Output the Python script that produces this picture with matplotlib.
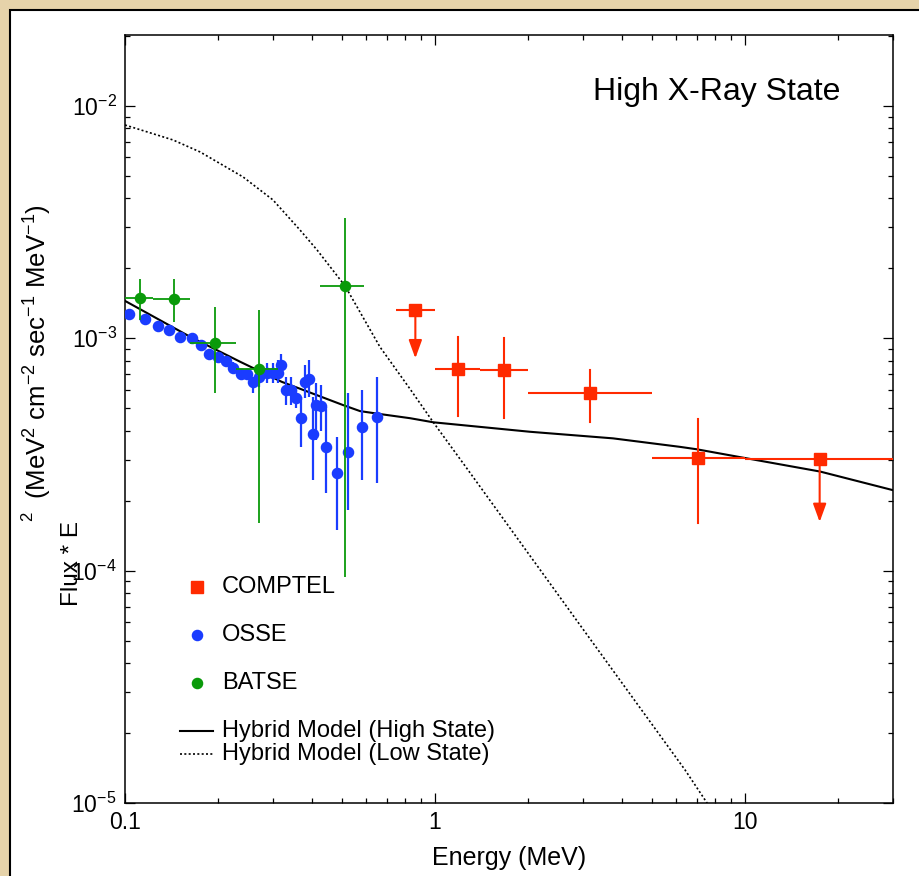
import matplotlib
matplotlib.use("Agg")
import matplotlib.pyplot as plt
from matplotlib.patches import Rectangle
from matplotlib.ticker import NullFormatter
import numpy as np

plt.rcParams["font.family"] = ["Liberation Sans", "DejaVu Sans"]
plt.rcParams["mathtext.fontset"] = "custom"
plt.rcParams["mathtext.rm"] = "Liberation Sans"
plt.rcParams["mathtext.default"] = "regular"
plt.rcParams["axes.unicode_minus"] = False

# COMPTEL (energy bins in MeV, flux*E^2)
comptel_e = [0.864, 1.19, 1.67, 3.17, 7.07, 17.4]
comptel_e_lo = [0.75, 1.0, 1.4, 2.0, 5.0, 10.0]
comptel_e_hi = [1.0, 1.4, 2.0, 5.0, 10.0, 30.0]
comptel_f = [1.32e-3, 7.35e-4, 7.28e-4, 5.80e-4, 3.04e-4, 3.01e-4]
comptel_f_lo = [8.2e-4, 4.63e-4, 4.55e-4, 4.38e-4, 1.61e-4, 1.62e-4]
comptel_f_hi = [1.32e-3, 1.016e-3, 1.0e-3, 7.30e-4, 4.48e-4, 3.01e-4]
comptel_ul = [True, False, False, False, False, True]

# OSSE
osse_e = [0.1032, 0.116, 0.1281, 0.139, 0.1504, 0.164, 0.1754, 0.187, 0.200,
          0.2118, 0.2225, 0.236, 0.248, 0.258, 0.271, 0.2864, 0.2995, 0.311,
          0.318, 0.330, 0.343, 0.3555, 0.3687, 0.381, 0.392, 0.4027, 0.413,
          0.4285, 0.4449, 0.4817, 0.5253, 0.5827, 0.6485]
osse_f = [1.272e-3, 1.208e-3, 1.127e-3, 1.087e-3, 1.010e-3, 1.006e-3, 9.36e-4,
          8.53e-4, 8.28e-4, 7.98e-4, 7.47e-4, 6.99e-4, 6.99e-4, 6.47e-4, 6.84e-4,
          7.11e-4, 7.11e-4, 7.11e-4, 7.67e-4, 5.99e-4, 5.99e-4, 5.52e-4, 4.53e-4,
          6.47e-4, 6.66e-4, 3.88e-4, 5.16e-4, 5.11e-4, 3.42e-4, 2.64e-4, 3.25e-4,
          4.17e-4, 4.60e-4]
osse_f_lo = [1.24e-3, 1.18e-3, 1.10e-3, 1.06e-3, 0.98e-3, 0.975e-3, 9.05e-4,
             8.2e-4, 7.9e-4, 7.6e-4, 7.1e-4, 6.6e-4, 6.6e-4, 5.80e-4, 6.19e-4,
             6.40e-4, 6.40e-4, 6.40e-4, 6.83e-4, 5.16e-4, 5.16e-4, 5.00e-4, 3.42e-4,
             5.52e-4, 5.61e-4, 2.45e-4, 3.65e-4, 4.00e-4, 2.15e-4, 1.50e-4, 1.82e-4,
             2.45e-4, 2.38e-4]
osse_f_hi = [1.30e-3, 1.24e-3, 1.16e-3, 1.12e-3, 1.04e-3, 1.04e-3, 9.7e-4,
             8.9e-4, 8.7e-4, 8.4e-4, 7.9e-4, 7.4e-4, 7.4e-4, 6.83e-4, 7.67e-4,
             7.80e-4, 7.80e-4, 8.06e-4, 8.56e-4, 6.83e-4, 6.83e-4, 6.10e-4, 5.61e-4,
             7.67e-4, 8.06e-4, 5.61e-4, 6.40e-4, 6.30e-4, 5.08e-4, 3.77e-4, 5.80e-4,
             5.99e-4, 6.83e-4]

# BATSE
batse_e = [0.1118, 0.1439, 0.195, 0.2705, 0.5126]
batse_e_lo = [0.1, 0.1231, 0.1622, 0.228, 0.4256]
batse_e_hi = [0.1231, 0.1622, 0.228, 0.3114, 0.590]
batse_f = [1.486e-3, 1.476e-3, 9.57e-4, 7.38e-4, 1.684e-3]
batse_f_lo = [1.20e-3, 1.175e-3, 5.82e-4, 1.60e-4, 9.37e-5]
batse_f_hi = [1.80e-3, 1.80e-3, 1.364e-3, 1.325e-3, 3.30e-3]

# Hybrid model curves
high_e = [0.1, 0.162, 0.235, 0.320, 0.505, 0.573, 0.665, 0.831, 0.987, 2.025,
          3.75, 6.17, 6.98, 10.9, 17.46, 30.0]
high_f = [1.449e-3, 1.016e-3, 7.93e-4, 6.50e-4, 5.16e-4, 4.86e-4, 4.72e-4,
          4.53e-4, 4.35e-4, 3.96e-4, 3.71e-4, 3.41e-4, 3.33e-4, 2.99e-4,
          2.67e-4, 2.22e-4]
low_e = [0.1, 0.1428, 0.1746, 0.2402, 0.3001, 0.3668, 0.4163, 0.5126, 0.6646,
         0.8307, 0.9853, 1.278, 2.936, 6.405, 7.54, 8.5]
low_f = [8.28e-3, 7.14e-3, 6.34e-3, 4.95e-3, 3.94e-3, 2.925e-3, 2.40e-3,
         1.68e-3, 9.17e-4, 6.05e-4, 4.365e-4, 2.71e-4, 5.83e-5, 1.387e-5,
         1.0e-5, 7.0e-6]

red = "#ff2a00"
blue = "#1a3cff"
green = "#0a9a0a"
parchment = "#e6d3aa"

fig = plt.figure(figsize=(9.19, 8.76), dpi=100)
fig.patch.set_facecolor(parchment)
fig.add_artist(Rectangle((10 / 919, -0.01), 1.0, 866 / 876 + 0.01,
                         transform=fig.transFigure, facecolor="white",
                         edgecolor="black", lw=1.5, zorder=0))

ax = fig.add_axes([125 / 919, 73 / 876, 768 / 919, 768 / 876])
ax.set_xscale("log")
ax.set_yscale("log")
ax.set_xlim(0.1, 30)
ax.set_ylim(1e-5, 2.02e-2)

ax.plot(high_e, high_f, color="black", lw=1.5, zorder=2)
ax.plot(low_e, low_f, color="black", lw=1.2, ls=(0, (1.2, 1.4)), zorder=2)

of = np.array(osse_f)
ax.errorbar(osse_e, of, yerr=[of - np.array(osse_f_lo), np.array(osse_f_hi) - of],
            fmt="o", ms=7.3, color=blue, ecolor=blue, elinewidth=1.6,
            capsize=0, zorder=3)

be = np.array(batse_e)
bf = np.array(batse_f)
ax.errorbar(be, bf,
            xerr=[be - np.array(batse_e_lo), np.array(batse_e_hi) - be],
            yerr=[bf - np.array(batse_f_lo), np.array(batse_f_hi) - bf],
            fmt="o", ms=7.3, color=green, ecolor=green, elinewidth=1.3,
            capsize=0, zorder=4)

ce = np.array(comptel_e)
cf = np.array(comptel_f)
ax.errorbar(ce, cf, xerr=[ce - np.array(comptel_e_lo), np.array(comptel_e_hi) - ce],
            fmt="s", ms=9.3, color=red, ecolor=red, elinewidth=1.5, capsize=0,
            zorder=5)
for e, f, lo, hi, ul in zip(comptel_e, comptel_f, comptel_f_lo, comptel_f_hi, comptel_ul):
    if ul:
        ax.annotate("", xy=(e, lo), xytext=(e, f),
                    arrowprops=dict(arrowstyle="-|>,head_length=0.55,head_width=0.2",
                                    mutation_scale=20, color=red, lw=1.5,
                                    shrinkA=0, shrinkB=0), zorder=5)
    else:
        ax.plot([e, e], [lo, hi], color=red, lw=1.5, zorder=5)

ax.set_xticks([0.1, 1, 10])
ax.set_xticklabels(["0.1", "1", "10"])
ax.xaxis.set_minor_formatter(NullFormatter())
ax.yaxis.set_minor_formatter(NullFormatter())
ax.tick_params(which="both", direction="in", top=True, right=True,
               labelsize=16.5, width=0.9, pad=6)
ax.tick_params(which="major", length=7)
ax.tick_params(which="minor", length=3.5)
for s in ax.spines.values():
    s.set_linewidth(1.1)

ax.text(0.931, 0.926, "High X-Ray State", transform=ax.transAxes,
        ha="right", va="center", fontsize=23)

# legend drawn by hand
ax.plot([0.0934], [0.2816], "s", ms=9.3, color=red, transform=ax.transAxes)
ax.plot([0.0934], [0.21875], "o", ms=7.3, color=blue, transform=ax.transAxes)
ax.plot([0.0934], [0.1566], "o", ms=7.3, color=green, transform=ax.transAxes)
ax.plot([0.0716, 0.1142], [0.0941, 0.0941], color="black", lw=1.5,
        transform=ax.transAxes)
ax.plot([0.0716, 0.1142], [0.0634, 0.0634], color="black", lw=1.2,
        ls=(0, (1.2, 1.4)), transform=ax.transAxes)
for yy, label in [(0.2816, "COMPTEL"), (0.21875, "OSSE"), (0.1566, "BATSE"),
                  (0.0941, "Hybrid Model (High State)"),
                  (0.0634, "Hybrid Model (Low State)")]:
    ax.text(0.1259, yy, label, transform=ax.transAxes, ha="left",
            va="center", fontsize=17)

fig.text(509 / 919, 1 - 858 / 876, "Energy (MeV)", ha="center", va="center",
         fontsize=18)
fig.text(72 / 919, 1 - 564 / 876, "Flux * E", rotation=90, ha="center",
         va="center", fontsize=17.5)
fig.text(28 / 919, 1 - 516 / 876, "2", rotation=90, ha="center",
         va="center", fontsize=12)
fig.text(38 / 919, 1 - 352 / 876,
         r"(MeV$^{2}$ cm$^{-2}$ sec$^{-1}$ MeV$^{-1}$)", rotation=90,
         ha="center", va="center", fontsize=18.5)

fig.savefig("out.png", dpi=100, facecolor=fig.get_facecolor())
